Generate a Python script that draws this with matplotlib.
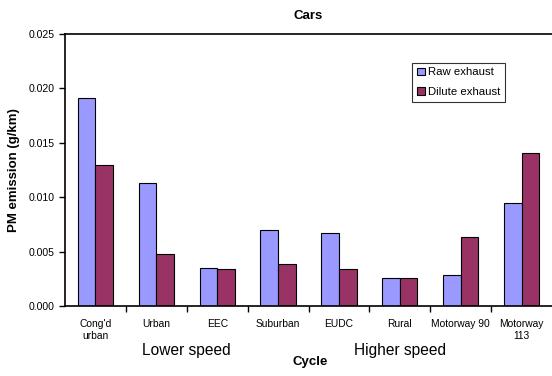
import matplotlib
matplotlib.use("Agg")
import matplotlib.pyplot as plt
import numpy as np

plt.rcParams['font.family'] = ['Liberation Sans', 'DejaVu Sans']

categories = ["Cong'd\nurban", "Urban", "EEC", "Suburban", "EUDC", "Rural", "Motorway 90", "Motorway\n113"]
raw_exhaust = [0.0191, 0.0113, 0.00346, 0.0070, 0.00674, 0.00254, 0.00288, 0.0095]
dilute_exhaust = [0.0130, 0.00475, 0.00337, 0.00386, 0.0034, 0.0026, 0.00637, 0.0141]
yticks = [0.000, 0.005, 0.010, 0.015, 0.020, 0.025]

fig = plt.figure(figsize=(5.52, 3.76), dpi=100)
ax = fig.add_axes([0.1178, 0.186, 0.8822, 0.7238])

x = np.arange(len(categories))
w = 0.29
ax.bar(x - w/2, raw_exhaust, w, color='#9999FF', edgecolor='black', linewidth=0.8, label='Raw exhaust')
ax.bar(x + w/2, dilute_exhaust, w, color='#993366', edgecolor='black', linewidth=0.8, label='Dilute exhaust')

ax.set_xlim(-0.5, len(categories) - 0.5)
ax.set_ylim(0, 0.025)
ax.set_yticks(yticks)
ax.set_yticklabels([f"{v:.3f}" for v in yticks], fontsize=7.6)
ax.set_xticks(x)
ax.set_xticklabels(categories, fontsize=7.4, linespacing=1.35)
ax.tick_params(axis='x', which='major', length=0, pad=9)
ax.set_xticks(np.arange(0.5, len(categories) - 0.5, 1), minor=True)
ax.tick_params(axis='x', which='minor', length=4, direction='out', width=1)
ax.tick_params(axis='y', length=4, direction='out', width=1)

for s in ['left', 'bottom', 'top']:
    ax.spines[s].set_linewidth(1.2)
ax.spines['right'].set_visible(False)

ax.set_title('Cars', fontsize=9.5, fontweight='bold', pad=11)
ax.set_ylabel('PM emission (g/km)', fontsize=9.5, fontweight='bold', labelpad=6)
fig.text(310/552, 1 - 362/376, 'Cycle', fontsize=9.5, fontweight='bold', ha='center', va='center')
fig.text(186/552, 1 - 351/376, 'Lower speed', fontsize=11.2, ha='center', va='center')
fig.text(400/552, 1 - 351/376, 'Higher speed', fontsize=11.2, ha='center', va='center')

leg = ax.legend(loc='upper left', bbox_to_anchor=((412-65)/487, (306-63)/272), fontsize=8.2,
                frameon=True, fancybox=False, edgecolor='black', handlelength=0.7, handleheight=0.7,
                handletextpad=0.3, borderpad=0.4, labelspacing=0.85, borderaxespad=0)
leg.get_frame().set_linewidth(0.8)

fig.savefig('out.png', dpi=100)
